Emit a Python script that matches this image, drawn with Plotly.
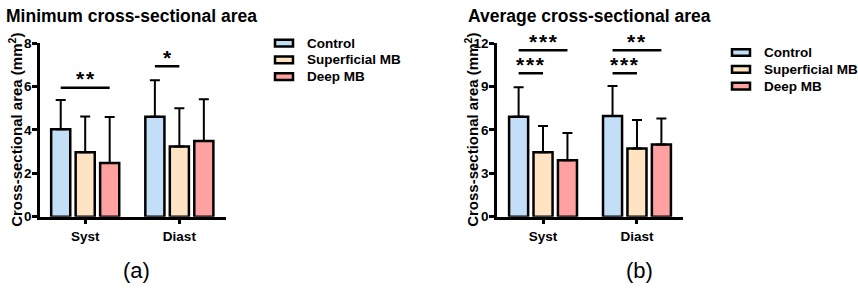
import plotly.graph_objects as go

# ---------------- data ----------------
categories = ["Syst", "Diast"]
groups = ["Control", "Superficial MB", "Deep MB"]

# Minimum cross-sectional area (mm^2): mean and SD
min_control = [4.03, 4.60]
min_superficial = [2.97, 3.23]
min_deep = [2.47, 3.49]
min_control_sd = [1.35, 1.69]
min_superficial_sd = [1.65, 1.77]
min_deep_sd = [2.12, 1.92]

# Average cross-sectional area (mm^2): mean and SD
avg_control = [6.90, 6.96]
avg_superficial = [4.45, 4.71]
avg_deep = [3.90, 4.99]
avg_control_sd = [2.05, 2.08]
avg_superficial_sd = [1.82, 1.97]
avg_deep_sd = [1.88, 1.80]

# significance brackets: (category index, group a, group b, level, label)
min_sig = [(0, 0, 2, 5.94, "**"), (1, 0, 1, 6.93, "*")]
avg_sig = [(0, 0, 2, 11.5, "***"), (0, 0, 1, 9.92, "***"),
           (1, 0, 2, 11.5, "**"), (1, 0, 1, 9.92, "***")]

min_yticks = [0, 2, 4, 6, 8]
avg_yticks = [0, 3, 6, 9, 12]

# ---------------- style ----------------
colors = ["#C3DEF7", "#FFE3C2", "#FFA1A1"]
FONT = "Liberation Sans, Arial, sans-serif"
W, H = 858, 293
BARGAP = 0.22
GROUPGAP = 0.22
SLOT = (1 - BARGAP) / 3


def px(x):
    return x / W


def py(y):
    return 1 - y / H


fig = go.Figure()

panels = [
    dict(means=[min_control, min_superficial, min_deep],
         sds=[min_control_sd, min_superficial_sd, min_deep_sd],
         xa="x", ya="y", sig=min_sig, ticks=min_yticks),
    dict(means=[avg_control, avg_superficial, avg_deep],
         sds=[avg_control_sd, avg_superficial_sd, avg_deep_sd],
         xa="x2", ya="y2", sig=avg_sig, ticks=avg_yticks),
]

xidx = list(range(len(categories)))
for p in panels:
    for g, name in enumerate(groups):
        fig.add_trace(go.Bar(
            x=xidx, y=p["means"][g], name=name, showlegend=False,
            marker=dict(color=colors[g], line=dict(color="black", width=2.5)),
            error_y=dict(type="data", array=p["sds"][g], arrayminus=[0] * len(xidx),
                         symmetric=False, color="black", thickness=2, width=5),
            xaxis=p["xa"], yaxis=p["ya"],
        ))
    for (c, ga, gb, lvl, lab) in p["sig"]:
        xa0 = c + (ga - 1) * SLOT
        xb0 = c + (gb - 1) * SLOT
        fig.add_shape(type="line", xref=p["xa"], yref=p["ya"], x0=xa0, x1=xb0,
                      y0=lvl, y1=lvl, line=dict(color="black", width=2.5))
        fig.add_annotation(x=(xa0 + xb0) / 2, y=lvl, xref=p["xa"], yref=p["ya"],
                           text="\u200a".join(["*"] * len(lab)), showarrow=False,
                           yanchor="middle", yshift=9,
                           font=dict(family=FONT, size=21, color="black", weight="bold"))

axis_common = dict(showline=True, linecolor="black", linewidth=2.5, ticks="outside",
                   ticklen=5, tickwidth=2.5, tickcolor="black", showgrid=False,
                   zeroline=False,
                   tickfont=dict(family=FONT, size=13.5, color="black", weight="bold"))

ydom = [py(221), py(38)]
fig.update_layout(
    width=W, height=H, margin=dict(l=0, r=0, t=0, b=0),
    paper_bgcolor="white", plot_bgcolor="white",
    barmode="group", bargap=BARGAP, bargroupgap=GROUPGAP,
    xaxis=dict(domain=[px(40), px(225.5)], range=[-0.48, 1.49],
               tickvals=xidx, ticktext=categories, anchor="y", **axis_common),
    yaxis=dict(domain=ydom, range=[0, 8], tickvals=min_yticks, anchor="x",
               ticklabelstandoff=-2, **axis_common),
    xaxis2=dict(domain=[px(497), px(683)], range=[-0.49, 1.49],
                tickvals=xidx, ticktext=categories, anchor="y2", **axis_common),
    yaxis2=dict(domain=ydom, range=[0, 12], tickvals=avg_yticks, anchor="x2",
                ticklabelstandoff=-2, **axis_common),
)

# titles, axis titles, panel labels
bold_ax = dict(family=FONT, size=15, color="black", weight="bold")
fig.add_annotation(x=px(4), y=py(9.5), xref="paper", yref="paper", xanchor="left",
                   yanchor="middle", showarrow=False, text="Minimum cross-sectional area",
                   font=dict(family=FONT, size=17.5, color="black", weight="bold"))
fig.add_annotation(x=px(466), y=py(9.5), xref="paper", yref="paper", xanchor="left",
                   yanchor="middle", showarrow=False, text="Average cross-sectional area",
                   font=dict(family=FONT, size=17.5, color="black", weight="bold"))
for xc in (16, 472):
    fig.add_annotation(x=px(xc), y=py(129.5), xref="paper", yref="paper", textangle=-90,
                       xanchor="center", yanchor="middle", showarrow=False,
                       text="Cross-sectional area (mm<sup>2</sup>)", font=bold_ax)
for xc, lab in ((136.5, "(a)"), (639, "(b)")):
    fig.add_annotation(x=px(xc), y=py(278), xref="paper", yref="paper",
                       xanchor="center", yanchor="middle", showarrow=False, text=lab,
                       font=dict(family=FONT, size=22, color="black"))

# legends
for (lx, ly0) in ((275, 38), (732, 48)):
    for g, name in enumerate(groups):
        yc = ly0 + g * 17.7
        fig.add_shape(type="rect", xref="paper", yref="paper",
                      x0=px(lx), x1=px(lx + 18), y0=py(yc + 3.5), y1=py(yc - 3.5),
                      fillcolor=colors[g], line=dict(color="black", width=2.5))
        fig.add_annotation(x=px(lx + 30), y=py(yc), xref="paper", yref="paper",
                           xanchor="left", yanchor="middle", showarrow=False,
                           text=name, font=dict(family=FONT, size=13.5, color="black",
                                                weight="bold"))

fig.write_html("out.html", config={"displayModeBar": False},
               post_script="document.body.style.margin='0';document.body.style.overflow='hidden';")
